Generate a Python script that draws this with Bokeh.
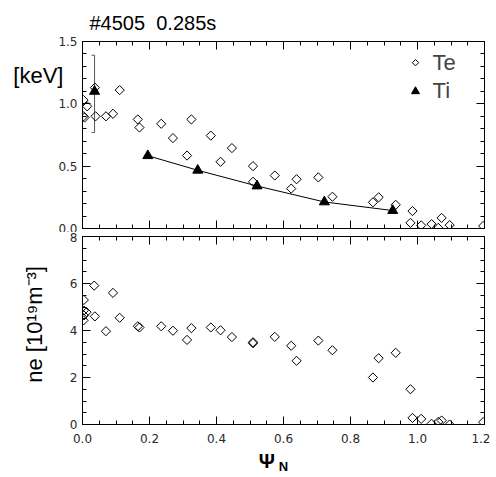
import numpy as np
from bokeh.plotting import figure
from bokeh.layouts import column
from bokeh.models import (Range1d, LinearAxis, FixedTicker, PrintfTickFormatter, Label,
                          CustomJSTickFormatter, Title)
from bokeh.embed import file_html
from bokeh.resources import INLINE

# ---- data ----
te_psi = [0.003, 0.014, 0.003, 0.006, 0.037, 0.039, 0.070, 0.091, 0.111, 0.165, 0.170, 0.235, 0.270,
          0.312, 0.325, 0.383, 0.412, 0.446, 0.509, 0.509, 0.574, 0.623, 0.639, 0.704, 0.746, 0.867,
          0.884, 0.935, 0.979, 0.985, 1.011, 1.042, 1.062, 1.072, 1.096, 1.196]
te = [1.03, 0.98, 0.90, 0.89, 1.13, 0.90, 0.90, 0.92, 1.11, 0.875, 0.81, 0.84, 0.725,
      0.585, 0.875, 0.745, 0.535, 0.645, 0.50, 0.375, 0.425, 0.32, 0.395, 0.41, 0.255, 0.21,
      0.25, 0.19, 0.045, 0.14, 0.025, 0.035, 0.005, 0.085, 0.027, 0.02]

ti_psi = [0.036, 0.195, 0.344, 0.521, 0.722, 0.926]
ti = [1.10, 0.584, 0.467, 0.341, 0.213, 0.144]
ti_err_low = [0.77]
ti_err_high = [1.39]

ne_psi = [0.004, 0.004, 0.012, 0.004, 0.003, 0.035, 0.037, 0.070, 0.091, 0.111, 0.165, 0.170, 0.235,
          0.270, 0.312, 0.325, 0.383, 0.412, 0.446, 0.509, 0.509, 0.574, 0.623, 0.639, 0.704, 0.746,
          0.867, 0.884, 0.935, 0.979, 0.985, 1.011, 1.042, 1.062, 1.072, 1.096, 1.196]
ne = [5.3, 4.85, 4.78, 4.64, 4.43, 5.91, 4.6, 3.97, 5.6, 4.54, 4.18, 4.13, 4.18,
      3.99, 3.6, 4.1, 4.13, 4.01, 3.72, 3.5, 3.46, 3.73, 3.35, 2.71, 3.57, 3.16,
      2.0, 2.82, 3.05, 1.5, 0.28, 0.24, 0.03, 0.11, 0.17, 0.0, 0.1]

x_ticks = [0.0, 0.2, 0.4, 0.6, 0.8, 1.0, 1.2]
te_ticks = [0.0, 0.5, 1.0, 1.5]
ne_ticks = [0, 2, 4, 6, 8]

FONT = "Liberation Sans"
TICKFONT = "DejaVu Sans"


def minor_between(ticks, n):
    out = []
    for a, b in zip(ticks[:-1], ticks[1:]):
        out += [round(a + (b - a) * k / n, 6) for k in range(1, n)]
    return out


def hide_labels(ax):
    ax.formatter = CustomJSTickFormatter(code="return ''")
    ax.major_label_text_font_size = "1px"
    ax.major_label_standoff = 0


def style_axes(p, xticks, xminor, yticks, yminor, yfmt, show_x_labels):
    bottom = p.below[0]
    left = p.left[0]
    xt = FixedTicker(ticks=xticks, minor_ticks=minor_between(xticks, xminor))
    yt = FixedTicker(ticks=yticks, minor_ticks=minor_between(yticks, yminor))
    bottom.ticker = xt
    left.ticker = yt
    top = LinearAxis(ticker=xt)
    right = LinearAxis(ticker=yt)
    p.add_layout(top, "above")
    p.add_layout(right, "right")
    for ax in [bottom, left, top, right]:
        ax.major_tick_in = 8
        ax.major_tick_out = 0
        ax.minor_tick_in = 4
        ax.minor_tick_out = 0
        ax.axis_line_color = "black"
        ax.major_tick_line_color = "black"
        ax.minor_tick_line_color = "black"
        ax.major_label_text_font = TICKFONT
        ax.major_label_text_color = "#2a2a2a"
        ax.major_label_text_font_size = "12px"
        ax.major_label_text_line_height = 1.0
        ax.axis_label_text_color = "black"
        ax.axis_label_text_line_height = 1.0
    hide_labels(top)
    hide_labels(right)
    bottom.formatter = PrintfTickFormatter(format="%.1f")
    left.formatter = PrintfTickFormatter(format=yfmt)
    left.major_label_standoff = 5
    bottom.major_label_standoff = 9
    if not show_x_labels:
        hide_labels(bottom)
    p.xgrid.visible = False
    p.ygrid.visible = False
    p.outline_line_color = "black"
    return bottom, left


# ---- top panel ----
p1 = figure(width=490, height=232, output_backend="svg", toolbar_location=None,
            x_range=Range1d(0, 1.2), y_range=Range1d(0, 1.5),
            min_border_left=82, min_border_right=6, min_border_top=41, min_border_bottom=4,
            title="#4505\u00a0 0.285s")
b1, l1 = style_axes(p1, x_ticks, 4, te_ticks, 5, "%.1f", False)
l1.major_label_text_line_height = 0.65
p1.title.text_font = FONT
p1.title.text_font_size = "20px"
p1.title.text_font_style = "normal"
p1.title.text_color = "black"
p1.title.align = "left"
p1.title.offset = 7
p1.title.standoff = 16

l1.axis_label = "[keV]\n\n\n\n"
l1.axis_label_orientation = "horizontal"
l1.axis_label_text_font = FONT
l1.axis_label_text_font_size = "22px"
l1.axis_label_text_font_style = "normal"
l1.axis_label_text_line_height = 1.2
l1.axis_label_standoff = -8

p1.segment(x0=[ti_psi[0]], y0=ti_err_low, x1=[ti_psi[0]], y1=ti_err_high, line_color="#555555", line_width=1)
cap = 0.009
p1.segment(x0=[ti_psi[0] - cap] * 2, y0=[ti_err_low[0], ti_err_high[0]],
           x1=[ti_psi[0]] * 2, y1=[ti_err_low[0], ti_err_high[0]], line_color="#555555", line_width=1)
p1.line(ti_psi[1:], ti[1:], line_color="black", line_width=1)
p1.scatter(te_psi, te, marker="square", angle=np.pi / 4, size=6.5,
           fill_color="white", fill_alpha=0.0, line_color="black", line_width=1)
p1.scatter(ti_psi, ti, marker="triangle", size=10, fill_color="black", line_color="black")

# legend (manual)
p1.scatter([0.994], [1.33], marker="square", angle=np.pi / 4, size=4.5,
           fill_alpha=0.0, line_color="black", line_width=1)
p1.scatter([0.994], [1.10], marker="triangle", size=8, fill_color="black", line_color="black")
p1.add_layout(Label(x=1.045, y=1.335, text="Te", text_font=FONT, text_font_size="22px",
                    text_baseline="middle", text_align="left"))
p1.add_layout(Label(x=1.045, y=1.105, text="Ti", text_font=FONT, text_font_size="22px",
                    text_baseline="middle", text_align="left"))

# ---- bottom panel ----
p2 = figure(width=490, height=244, output_backend="svg", toolbar_location=None,
            x_range=Range1d(0, 1.2), y_range=Range1d(0, 8),
            min_border_left=82, min_border_right=6, min_border_top=4, min_border_bottom=52)
b2, l2 = style_axes(p2, x_ticks, 4, ne_ticks, 4, "%d", True)

l2.axis_label = "\u2007ne [10¹⁹m⁻³]"
l2.axis_label_text_font = FONT
l2.axis_label_text_font_size = "22px"
l2.axis_label_text_font_style = "normal"
l2.axis_label_standoff = 20

b2.axis_label = "Ψ\u2007\u2007\u2007"
b2.axis_label_text_font = FONT
b2.axis_label_text_font_size = "20px"
b2.axis_label_text_font_style = "bold"
b2.axis_label_standoff = 4

nsub = Title(text="N", text_font=FONT, text_font_size="13px", text_font_style="bold",
             text_color="black", align="center", vertical_align="top", standoff=-32,
             text_line_height=1.0)
p2.add_layout(nsub, "below")

p2.scatter(ne_psi, ne, marker="square", angle=np.pi / 4, size=6.5,
           fill_alpha=0.0, line_color="black", line_width=1)

layout = column(p1, p2, spacing=0)
open("out.html", "w").write(file_html(layout, INLINE))
